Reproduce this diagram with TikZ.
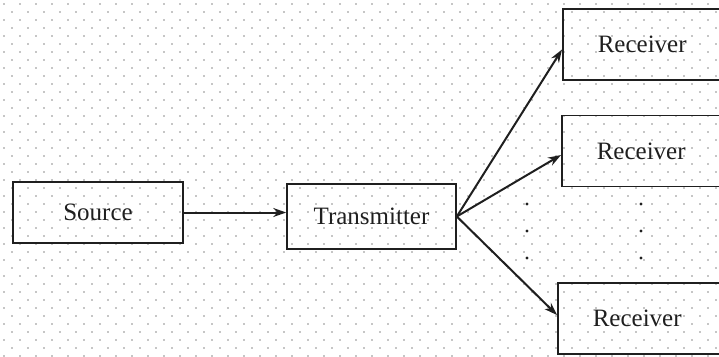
\documentclass[tikz,border=0pt]{standalone}
\usepackage{fontspec}
\setmainfont{Liberation Serif}
\usetikzlibrary{arrows.meta}
\definecolor{ink}{gray}{0.12}
\definecolor{dotc}{gray}{0.55}
\begin{document}
\begin{tikzpicture}[x=1pt,y=-1pt,
  box/.style={draw=ink, line width=1.6pt, rectangle, inner sep=0pt,
    text=ink, font=\fontsize{25}{29}\selectfont},
  rbox/.style={box, anchor=west, minimum height=71pt, text width=150pt,
    align=left, inner xsep=35pt},
  link/.style={draw=ink, line width=2pt, -{Stealth[length=13pt,width=9pt]}},
  bgdot/.style={fill=dotc},
  vdot/.style={fill=ink}]
\useasboundingbox (0,0) rectangle (719,356);
\clip (0,0) rectangle (719,356);
% dotted background lattice
\foreach \yy in {4,20,...,356}
  \foreach \xx in {4,20,...,719}
    \fill[bgdot] (\xx,\yy) circle[radius=0.8pt];
\foreach \yy in {12,28,...,356}
  \foreach \xx in {12,28,...,719}
    \fill[bgdot] (\xx,\yy) circle[radius=0.8pt];
% blocks
\node[box, minimum width=170pt, minimum height=61pt] (src) at (98,212.5) {Source};
\node[box, minimum width=169pt, minimum height=65pt] (trans) at (371.5,216.5) {Transmitter};
\node[rbox] (r1) at (562,44.5) {Receiver};
\node[rbox] (r2) at (561,151) {Receiver};
\node[rbox] (r3) at (557,318.5) {Receiver};
% connections
\draw[link] (src.east) -- (src.east -| trans.west);
\draw[link] (trans.east) -- ([yshift=-5pt]r1.west);
\draw[link] (trans.east) -- ([yshift=-4pt]r2.west);
\draw[link] (trans.east) -- ([yshift=3.5pt]r3.west);
% vertical ellipses between the lower receivers
\foreach \xx in {527,641}
  \foreach \yy in {204,231,258}
    \fill[vdot] (\xx,\yy) circle[radius=1.6pt];
\end{tikzpicture}
\end{document}
